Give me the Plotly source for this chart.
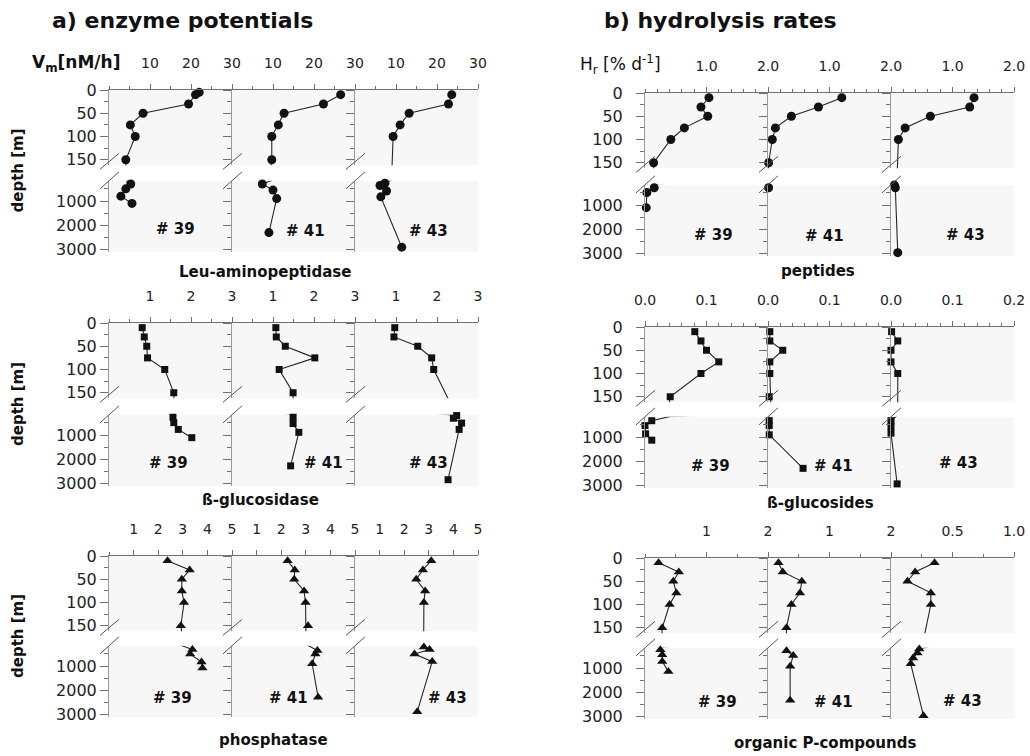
import plotly.graph_objects as go

W, H = 1030, 756

# ------------------------------------------------------------------ data
STATIONS = ["# 39", "# 41", "# 43"]

# a) enzyme potentials  Vm [nM/h]
leu_39_depth = [5, 10, 30, 50, 75, 100, 150, 300, 500, 800, 1100]
leu_39_val = [22.0, 21.1, 19.4, 8.3, 5.2, 6.4, 4.1, 5.3, 4.1, 2.9, 5.6]
leu_41_depth = [10, 30, 50, 75, 100, 150, 300, 550, 900, 2300]
leu_41_val = [26.5, 22.3, 12.7, 11.3, 9.7, 9.7, 7.4, 10.0, 10.9, 9.0]
leu_43_depth = [10, 30, 50, 75, 100, 270, 360, 590, 830, 2900]
leu_43_val = [23.6, 22.8, 13.2, 11.0, 9.3, 7.3, 6.1, 7.7, 6.3, 11.4]

glc_39_depth = [10, 30, 50, 75, 100, 150, 270, 490, 770, 1110]
glc_39_val = [0.81, 0.86, 0.92, 0.94, 1.36, 1.58, 1.56, 1.58, 1.69, 2.02]
glc_41_depth = [10, 30, 50, 75, 100, 150, 270, 530, 890, 2270]
glc_41_val = [1.07, 1.08, 1.30, 2.02, 1.15, 1.49, 1.49, 1.49, 1.63, 1.43]
glc_43_depth = [10, 30, 50, 75, 100, 200, 310, 510, 770, 2840]
glc_43_val = [0.97, 0.95, 1.53, 1.87, 1.92, 2.48, 2.40, 2.60, 2.54, 2.27]

pho_39_depth = [10, 30, 50, 75, 100, 150, 320, 510, 840, 1080]
pho_39_val = [2.38, 3.28, 2.96, 2.96, 3.05, 2.92, 3.39, 3.30, 3.76, 3.80]
pho_41_depth = [10, 30, 50, 75, 100, 150, 360, 510, 910, 2290]
pho_41_val = [2.26, 2.55, 2.53, 2.93, 2.99, 3.09, 3.47, 3.39, 3.26, 3.50]
pho_43_depth = [10, 30, 50, 75, 100, 220, 320, 510, 820, 2880]
pho_43_val = [3.10, 2.76, 2.49, 2.85, 2.80, 2.80, 3.03, 2.42, 3.14, 2.53]

# b) hydrolysis rates  Hr [% d-1]
pep_39_depth = [10, 30, 50, 75, 100, 150, 290, 490, 1110]
pep_39_val = [1.04, 0.91, 1.02, 0.64, 0.42, 0.14, 0.15, 0.03, 0.02]
pep_41_depth = [10, 30, 50, 75, 100, 150, 290]
pep_41_val = [1.20, 0.82, 0.38, 0.12, 0.07, 0.01, 0.01]
pep_43_depth = [10, 30, 50, 75, 100, 180, 290, 2960]
pep_43_val = [1.35, 1.28, 0.64, 0.23, 0.12, 0.055, 0.07, 0.11]

bgl_39_depth = [10, 30, 50, 75, 100, 150, 330, 530, 870, 1130]
bgl_39_val = [0.081, 0.091, 0.100, 0.120, 0.091, 0.041, 0.011, 0.000, 0.001, 0.011]
bgl_41_depth = [10, 30, 50, 75, 100, 150, 330, 530, 910, 2290]
bgl_41_val = [0.003, 0.003, 0.024, 0.003, 0.003, 0.002, 0.002, 0.002, 0.002, 0.057]
bgl_43_depth = [10, 30, 50, 75, 100, 330, 570, 840, 2930]
bgl_43_val = [0.001, 0.011, 0.000, 0.000, 0.011, 0.000, 0.000, 0.000, 0.010]

orp_39_depth = [10, 30, 50, 75, 100, 150, 250, 450, 730, 1140]
orp_39_val = [0.22, 0.55, 0.46, 0.51, 0.40, 0.28, 0.25, 0.28, 0.28, 0.38]
orp_41_depth = [10, 30, 50, 75, 100, 150, 290, 490, 930, 2330]
orp_41_val = [0.17, 0.24, 0.55, 0.52, 0.38, 0.30, 0.30, 0.41, 0.36, 0.36]
orp_43_depth = [10, 30, 50, 75, 100, 220, 380, 590, 820, 2960]
orp_43_val = [0.354, 0.196, 0.134, 0.324, 0.324, 0.23, 0.215, 0.18, 0.16, 0.264]

# tick labels
depth_upper_ticks = [0, 50, 100, 150]
depth_lower_ticks = [1000, 2000, 3000]
leu_ticks = [10, 20, 30]
glc_ticks = [1, 2, 3]
pho_ticks = [1, 2, 3, 4, 5]
pep_ticks = [1.0, 2.0]
pep_ticktext = ["1.0", "2.0"]
bgl_ticks_a = [0.0, 0.1]
bgl_ticks_b = [0.0, 0.1, 0.2]
orp_ticks_a = [1, 2]
orp_ticks_b = [0.5, 1.0]

# ------------------------------------------------------------------ geometry
FONT = "DejaVu Sans"
UP_SCALE = 0.465     # px per m (upper segment)
LO_SCALE = 0.0243    # px per m (lower segment)
UP_RANGE = [162, 0]
LO_RANGE = [3100, 170]
AXC = "#707070"


def fx(px):
    return px / W


def fy(py):
    return 1 - py / H


groups = {
    "L": dict(x0s=[109, 232, 355], width=123, standoff=0),
    "R": dict(x0s=[645, 768, 891], width=123, standoff=10),
}

rows = [
    dict(grp="L", y0=90, y1000=201, label="Leu-aminopeptidase", label_xy=(265, 272),
         sym="circle", size=9,
         data=[(leu_39_depth, leu_39_val), (leu_41_depth, leu_41_val), (leu_43_depth, leu_43_val)],
         xr=[[0, 30]] * 3, tv=[leu_ticks] * 3, tt=[[str(v) for v in leu_ticks]] * 3,
         minor=[5] * 3, st_xy=[(175, 229), (305, 231), (428, 231)]),
    dict(grp="L", y0=323, y1000=435, label="ß-glucosidase", label_xy=(260, 500),
         sym="square", size=7,
         data=[(glc_39_depth, glc_39_val), (glc_41_depth, glc_41_val), (glc_43_depth, glc_43_val)],
         xr=[[0, 3]] * 3, tv=[glc_ticks] * 3, tt=[[str(v) for v in glc_ticks]] * 3,
         minor=[0.5] * 3, st_xy=[(168, 463), (323, 463), (428, 463)]),
    dict(grp="L", y0=556, y1000=666, label="phosphatase", label_xy=(273, 740),
         sym="triangle-up", size=9,
         data=[(pho_39_depth, pho_39_val), (pho_41_depth, pho_41_val), (pho_43_depth, pho_43_val)],
         xr=[[0, 5]] * 3, tv=[pho_ticks] * 3, tt=[[str(v) for v in pho_ticks]] * 3,
         minor=[1] * 3, st_xy=[(172, 698), (288, 698), (447, 698)]),
    dict(grp="R", y0=93, y1000=205, label="peptides", label_xy=(818, 271),
         sym="circle", size=9,
         data=[(pep_39_depth, pep_39_val), (pep_41_depth, pep_41_val), (pep_43_depth, pep_43_val)],
         xr=[[0, 2]] * 3, tv=[pep_ticks] * 3, tt=[pep_ticktext] * 3,
         minor=[0.2] * 3, st_xy=[(713, 235), (824, 236), (965, 235)]),
    dict(grp="R", y0=327, y1000=437, label="ß-glucosides", label_xy=(820, 503),
         sym="square", size=7,
         data=[(bgl_39_depth, bgl_39_val), (bgl_41_depth, bgl_41_val), (bgl_43_depth, bgl_43_val)],
         xr=[[0, 0.2]] * 3, tv=[bgl_ticks_a, bgl_ticks_a, bgl_ticks_b],
         tt=[["%.1f" % v for v in bgl_ticks_a]] * 2 + [["%.1f" % v for v in bgl_ticks_b]],
         minor=[0.02] * 3, st_xy=[(710, 466), (833, 466), (958, 463)]),
    dict(grp="R", y0=558, y1000=668, label="organic P-compounds", label_xy=(825, 743),
         sym="triangle-up", size=9,
         data=[(orp_39_depth, orp_39_val), (orp_41_depth, orp_41_val), (orp_43_depth, orp_43_val)],
         xr=[[0, 2], [0, 2], [0, 1]], tv=[orp_ticks_a, orp_ticks_a, orp_ticks_b],
         tt=[[str(v) for v in orp_ticks_a]] * 2 + [["%.1f" % v for v in orp_ticks_b]],
         minor=[0.5, 0.5, 0.25], st_xy=[(717, 702), (833, 702), (962, 701)]),
]

fig = go.Figure()
layout = {}
shapes = []
ann = []
k = 0
tickfont_x = dict(family=FONT, size=14, color="#222")
tickfont_y = dict(family=FONT, size=16, color="#222")

for row in rows:
    g = groups[row["grp"]]
    yu_top = row["y0"]
    yu_bot = row["y0"] + UP_RANGE[0] * UP_SCALE
    yl_top = row["y1000"] - (1000 - LO_RANGE[1]) * LO_SCALE
    yl_bot = row["y1000"] + (LO_RANGE[0] - 1000) * LO_SCALE
    for p in range(3):
        x0 = g["x0s"][p]
        x1 = x0 + g["width"]
        dom_x = [fx(x0), fx(x1)]
        depth, val = row["data"][p]
        for seg in ("up", "lo"):
            k += 1
            xa = "xaxis" if k == 1 else "xaxis%d" % k
            ya = "yaxis" if k == 1 else "yaxis%d" % k
            xr_ = "x" if k == 1 else "x%d" % k
            yr_ = "y" if k == 1 else "y%d" % k
            if seg == "up":
                dom_y = [fy(yu_bot), fy(yu_top)]
                yrange = UP_RANGE
                ytv = depth_upper_ticks
                yminor = dict(tickmode="array", tickvals=[25, 75, 125], ticklen=4,
                              ticks="outside", tickcolor=AXC)
                layout[xa] = dict(domain=dom_x, range=row["xr"][p], anchor=yr_, side="top",
                                  tickmode="array", tickvals=row["tv"][p], ticktext=row["tt"][p],
                                  ticks="outside", ticklen=5, tickcolor=AXC,
                                  showline=True, linecolor=AXC, linewidth=1,
                                  showgrid=False, zeroline=False, tickfont=tickfont_x,
                                  ticklabelstandoff=10, automargin=False,
                                  minor=dict(tickmode="linear", tick0=0, dtick=row["minor"][p],
                                             ticklen=3, ticks="outside", tickcolor=AXC))
            else:
                dom_y = [fy(yl_bot), fy(yl_top)]
                yrange = LO_RANGE
                ytv = depth_lower_ticks
                yminor = dict(tickmode="array", tickvals=[500, 1500, 2500], ticklen=4,
                              ticks="outside", tickcolor=AXC)
                layout[xa] = dict(domain=dom_x, range=row["xr"][p], anchor=yr_,
                                  showline=False, showticklabels=False, ticks="",
                                  showgrid=False, zeroline=False, automargin=False)
            layout[ya] = dict(domain=dom_y, range=yrange, anchor=xr_,
                              tickmode="array", tickvals=ytv, ticktext=[str(v) for v in ytv],
                              showticklabels=(p == 0), ticks="outside", ticklen=8,
                              tickcolor=AXC, showline=True, linecolor="#9a9a9a", linewidth=1,
                              showgrid=False, zeroline=False, tickfont=tickfont_y,
                              ticklabelstandoff=g["standoff"], minor=yminor, automargin=False)
            fig.add_trace(go.Scatter(x=val, y=depth, xaxis=xr_, yaxis=yr_, mode="lines",
                                     line=dict(color="#262626", width=1.1), cliponaxis=True,
                                     hoverinfo="skip", showlegend=False))
            fig.add_trace(go.Scatter(x=val, y=depth, xaxis=xr_, yaxis=yr_, mode="markers",
                                     marker=dict(symbol=row["sym"], size=row["size"], color="#111"),
                                     cliponaxis=False, showlegend=False))
        # axis-break marks
        for (ya_, yb_) in ((yu_bot + 4, yu_bot - 12), (yl_top + 8, yl_top - 9)):
            shapes.append(dict(type="line", xref="paper", yref="paper",
                               x0=fx(x0 - 9), x1=fx(x0 + 10), y0=fy(ya_), y1=fy(yb_),
                               line=dict(color="#555", width=1)))
        sx, sy = row["st_xy"][p]
        ann.append(dict(x=fx(sx), y=fy(sy), xref="paper", yref="paper", text=STATIONS[p],
                        showarrow=False, xanchor="center", yanchor="middle",
                        font=dict(family=FONT, size=15, color="#111", weight="bold")))
    lx, ly = row["label_xy"]
    ann.append(dict(x=fx(lx), y=fy(ly), xref="paper", yref="paper", text=row["label"],
                    showarrow=False, xanchor="center", yanchor="middle",
                    font=dict(family=FONT, size=15, color="#111", weight="bold")))
    if row["grp"] == "L":
        ann.append(dict(x=fx(18), y=fy((row["y0"] + row["y1000"]) / 2 + 25), xref="paper",
                        yref="paper", text="depth [m]", textangle=-90, showarrow=False,
                        xanchor="center", yanchor="middle",
                        font=dict(family=FONT, size=15, color="#111", weight="bold")))

ann += [
    dict(x=fx(50), y=fy(20), xref="paper", yref="paper", text="a) enzyme potentials",
         showarrow=False, xanchor="left", yanchor="middle",
         font=dict(family=FONT, size=22, color="#111", weight="bold")),
    dict(x=fx(602), y=fy(20), xref="paper", yref="paper", text="b) hydrolysis rates",
         showarrow=False, xanchor="left", yanchor="middle",
         font=dict(family=FONT, size=22, color="#111", weight="bold")),
    dict(x=fx(30), y=fy(63), xref="paper", yref="paper", text="V<sub>m</sub>[nM/h]",
         showarrow=False, xanchor="left", yanchor="middle",
         font=dict(family=FONT, size=17, color="#111", weight="bold")),
    dict(x=fx(578), y=fy(64), xref="paper", yref="paper", text="H<sub>r</sub> [% d<sup>-1</sup>]",
         showarrow=False, xanchor="left", yanchor="middle",
         font=dict(family=FONT, size=17, color="#111")),
]

fig.update_layout(**layout)
fig.update_layout(width=W, height=H,
                  margin=dict(l=0, r=0, t=0, b=0, pad=0, autoexpand=False),
                  paper_bgcolor="white", plot_bgcolor="#f7f7f7", showlegend=False,
                  shapes=shapes, annotations=ann, font=dict(family=FONT))
fig.write_html("out.html", config={"displayModeBar": False},
               post_script="document.body.style.margin='0px';"
                           "document.body.style.overflow='hidden';")
